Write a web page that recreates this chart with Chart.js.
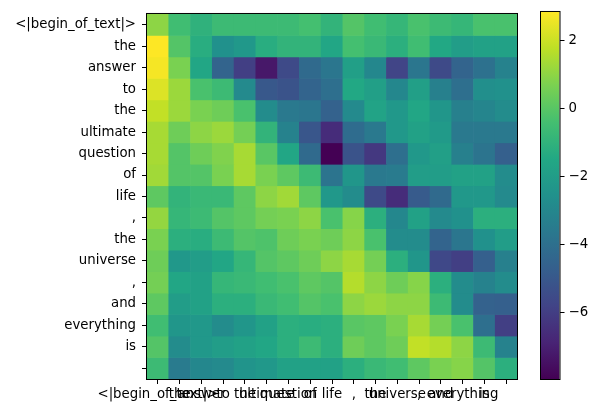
<!DOCTYPE html>
<html>
<head>
<meta charset="utf-8">
<script src="https://cdn.jsdelivr.net/npm/chart.js@4.4.0/dist/chart.umd.min.js"></script>
<style>
    html, body { margin: 0; padding: 0; background: #fff; }
    #wrap { position: relative; width: 599px; height: 413px; }
    #heatmap { position: absolute; left: 0; top: 0; }
    #cbar { position: absolute; left: 530px; top: 0; }
</style>
</head>
<body>
<div id="wrap">
    <canvas id="heatmap" width="530" height="413"></canvas>
    <canvas id="cbar" width="69" height="413"></canvas>
</div>
<script>
// tokens on both axes (last one is blank in the picture)
const tokens = ['<|begin_of_text|>', 'the', 'answer', 'to', 'the', 'ultimate', 'question',
    'of', 'life', ',', 'the', 'universe', ',', 'and', 'everything', 'is', ''];

// one row of scores per token
const row0  = [0.98, -0.52, -1.05, -0.62, -0.62, -0.62, -0.62, -0.41, -0.95, -0.09, -0.52, -0.84, -0.3, -0.62, -0.84, -0.3, -0.3];
const row1  = [2.83, -0.09, -1.27, -2.55, -2.23, -1.27, -0.95, -0.95, -1.6, -0.41, -0.73, -1.16, -0.52, -1.48, -2.02, -1.8, -1.8];
const row2  = [2.7, 0.66, -1.6, -4.5, -5.97, -7.26, -5.55, -4.26, -3.73, -1.9, -2.98, -5.76, -3.73, -5.55, -4.5, -3.94, -3.2];
const row3  = [2.27, 1.2, -0.3, -0.62, -2.87, -5.0, -5.2, -4.5, -4.05, -1.48, -1.9, -2.98, -1.9, -3.3, -4.05, -2.66, -2.55];
const row4  = [1.84, 1.2, 0.66, 0.44, -0.3, -2.76, -3.62, -3.73, -4.6, -2.87, -1.7, -2.23, -1.6, -2.34, -3.3, -3.1, -2.76];
const row5  = [1.4, 0.44, 0.98, 1.2, 0.55, -0.95, -3.2, -5.1, -6.6, -4.16, -3.62, -2.23, -1.8, -2.12, -3.62, -3.62, -3.62];
const row6  = [1.4, -0.09, 0.44, 0.77, 1.4, 0.02, -1.6, -4.26, -7.96, -5.2, -6.2, -4.05, -2.23, -1.9, -3.3, -3.83, -4.7];
const row7  = [1.3, -0.09, -0.09, 0.66, 1.4, 0.66, 0.12, -0.62, -3.83, -2.34, -3.62, -3.5, -2.02, -2.02, -1.8, -1.8, -2.76];
const row8  = [0.12, -0.95, -0.73, -0.73, 0.12, 0.98, 1.3, 0.12, -2.23, -2.76, -5.55, -6.6, -4.9, -4.26, -2.23, -2.23, -2.87];
const row9  = [1.09, -0.84, -0.62, -0.09, 0.12, 0.55, 0.66, 0.98, -0.3, 0.87, -1.16, -2.98, -1.8, -2.87, -2.55, -1.16, -1.16];
const row10 = [0.66, -1.16, -1.27, -0.62, -0.09, -0.2, 0.44, 0.66, 0.44, 0.98, -0.3, -2.76, -2.76, -4.5, -3.73, -2.55, -2.02];
const row11 = [0.44, -2.23, -2.02, -1.6, -0.84, -0.09, 0.12, 0.44, 0.98, 1.4, 0.55, -1.16, -2.34, -5.65, -5.97, -4.7, -3.3];
const row12 = [0.55, -1.6, -1.8, -0.84, -0.73, -0.52, -0.3, 0.12, -0.09, 1.6, 0.98, 0.44, 0.87, -1.16, -2.76, -3.2, -2.76];
const row13 = [0.12, -2.02, -1.8, -1.16, -1.16, -0.73, -0.52, -0.09, -0.3, 0.98, 1.2, 0.98, 0.98, -0.62, -2.76, -4.6, -4.7];
const row14 = [-0.52, -2.34, -2.23, -2.76, -2.34, -1.8, -1.16, -1.27, -1.16, 0.02, 0.12, 0.66, 1.4, 0.55, -0.3, -4.05, -5.97];
const row15 = [-0.09, -2.76, -2.23, -2.02, -1.8, -1.6, -1.16, -0.62, -1.16, 0.44, 0.12, 0.44, 1.84, 1.6, 0.98, -0.62, -3.2];
const row16 = [-0.62, -3.5, -2.98, -2.87, -2.44, -2.23, -1.8, -1.8, -1.8, -1.16, -0.73, -0.52, 0.12, 0.66, 0.87, -0.09, -1.16];

const scores = [row0, row1, row2, row3, row4, row5, row6, row7, row8,
    row9, row10, row11, row12, row13, row14, row15, row16];

// colorbar tick values
const cbarTicks = [2, 0, -2, -4, -6];

// viridis colour stops
const viridis = [
    [68, 1, 84], [72, 36, 117], [65, 68, 135], [53, 95, 141], [42, 120, 142],
    [33, 145, 140], [34, 168, 132], [68, 191, 112], [122, 209, 81], [189, 223, 38], [253, 231, 37]
];

const allValues = scores.flat();
const vmin = Math.min(...allValues);
const vmax = Math.max(...allValues);

function viridisColor(v) {
    let t = (v - vmin) / (vmax - vmin);
    t = Math.max(0, Math.min(1, t));
    const pos = t * (viridis.length - 1);
    const i = Math.min(Math.floor(pos), viridis.length - 2);
    const f = pos - i;
    const a = viridis[i], b = viridis[i + 1];
    const c = a.map((x, k) => Math.round(x + (b[k] - x) * f));
    return `rgb(${c[0]}, ${c[1]}, ${c[2]})`;
}

Chart.defaults.font.family = '"DejaVu Sans", sans-serif';
Chart.defaults.font.size = 13.3;
Chart.defaults.color = '#000';

// black frame round the plot area, like matplotlib spines
const framePlugin = {
    id: 'frame',
    afterDraw(chart) {
        const a = chart.chartArea;
        const ctx = chart.ctx;
        ctx.save();
        ctx.strokeStyle = '#000';
        ctx.lineWidth = 1;
        ctx.strokeRect(a.left - 0.5, a.top - 0.5, a.right - a.left + 1, a.bottom - a.top + 1);
        ctx.restore();
    }
};

// Heatmap: one floating bar dataset per row, not grouped
const datasets = scores.map((row, r) => ({
    data: row.map(() => [r - 0.5, r + 0.5]),
    backgroundColor: row.map(v => viridisColor(v)),
    borderWidth: 0,
    barPercentage: 1,
    categoryPercentage: 1,
    grouped: false
}));

new Chart(document.getElementById('heatmap'), {
    type: 'bar',
    data: { labels: tokens, datasets: datasets },
    options: {
        responsive: false,
        animation: false,
        events: [],
        layout: { padding: { top: 9, right: 13, left: 0, bottom: 0 } },
        plugins: { legend: { display: false }, tooltip: { enabled: false } },
        scales: {
            x: {
                type: 'category',
                afterFit: function(scale) { scale.height = 34; },
                grid: { offset: false, drawOnChartArea: false, drawTicks: true, tickLength: 5, color: '#000' },
                border: { display: true, color: '#000' },
                ticks: { autoSkip: false, maxRotation: 0, minRotation: 0, padding: 3, color: '#000' }
            },
            y: {
                type: 'linear',
                reverse: true,
                min: -0.5,
                max: 16.5,
                afterFit: function(scale) { scale.width = 147; },
                afterBuildTicks: function(scale) {
                    scale.ticks = tokens.map((_, i) => ({ value: i }));
                },
                grid: { drawOnChartArea: false, drawTicks: true, tickLength: 5, color: '#000' },
                border: { display: true, color: '#000' },
                ticks: {
                    autoSkip: false,
                    padding: 6,
                    color: '#000',
                    callback: function(value) { return tokens[value]; }
                }
            }
        }
    },
    plugins: [framePlugin]
});

// Colorbar
new Chart(document.getElementById('cbar'), {
    type: 'bar',
    data: {
        labels: [''],
        datasets: [{
            data: [[vmin, vmax]],
            borderWidth: 0,
            barPercentage: 1,
            categoryPercentage: 1,
            backgroundColor: function(context) {
                const area = context.chart.chartArea;
                if (!area) return '#21918c';
                const g = context.chart.ctx.createLinearGradient(0, area.bottom, 0, area.top);
                viridis.forEach((c, i) => {
                    g.addColorStop(i / (viridis.length - 1), `rgb(${c[0]}, ${c[1]}, ${c[2]})`);
                });
                return g;
            }
        }]
    },
    options: {
        responsive: false,
        animation: false,
        events: [],
        layout: { padding: { top: 9, left: 11, right: 0, bottom: 34 } },
        plugins: { legend: { display: false }, tooltip: { enabled: false } },
        scales: {
            x: { display: false },
            y: {
                position: 'right',
                min: vmin,
                max: vmax,
                afterFit: function(scale) { scale.width = 39.5; },
                afterBuildTicks: function(scale) {
                    scale.ticks = cbarTicks.map(v => ({ value: v }));
                },
                grid: { drawOnChartArea: false, drawTicks: true, tickLength: 5, color: '#000' },
                border: { display: false },
                ticks: {
                    padding: 4,
                    color: '#000',
                    callback: function(value) {
                        return value < 0 ? '\u2212' + Math.abs(value) : String(value);
                    }
                }
            }
        }
    },
    plugins: [framePlugin]
});
</script>
</body>
</html>
